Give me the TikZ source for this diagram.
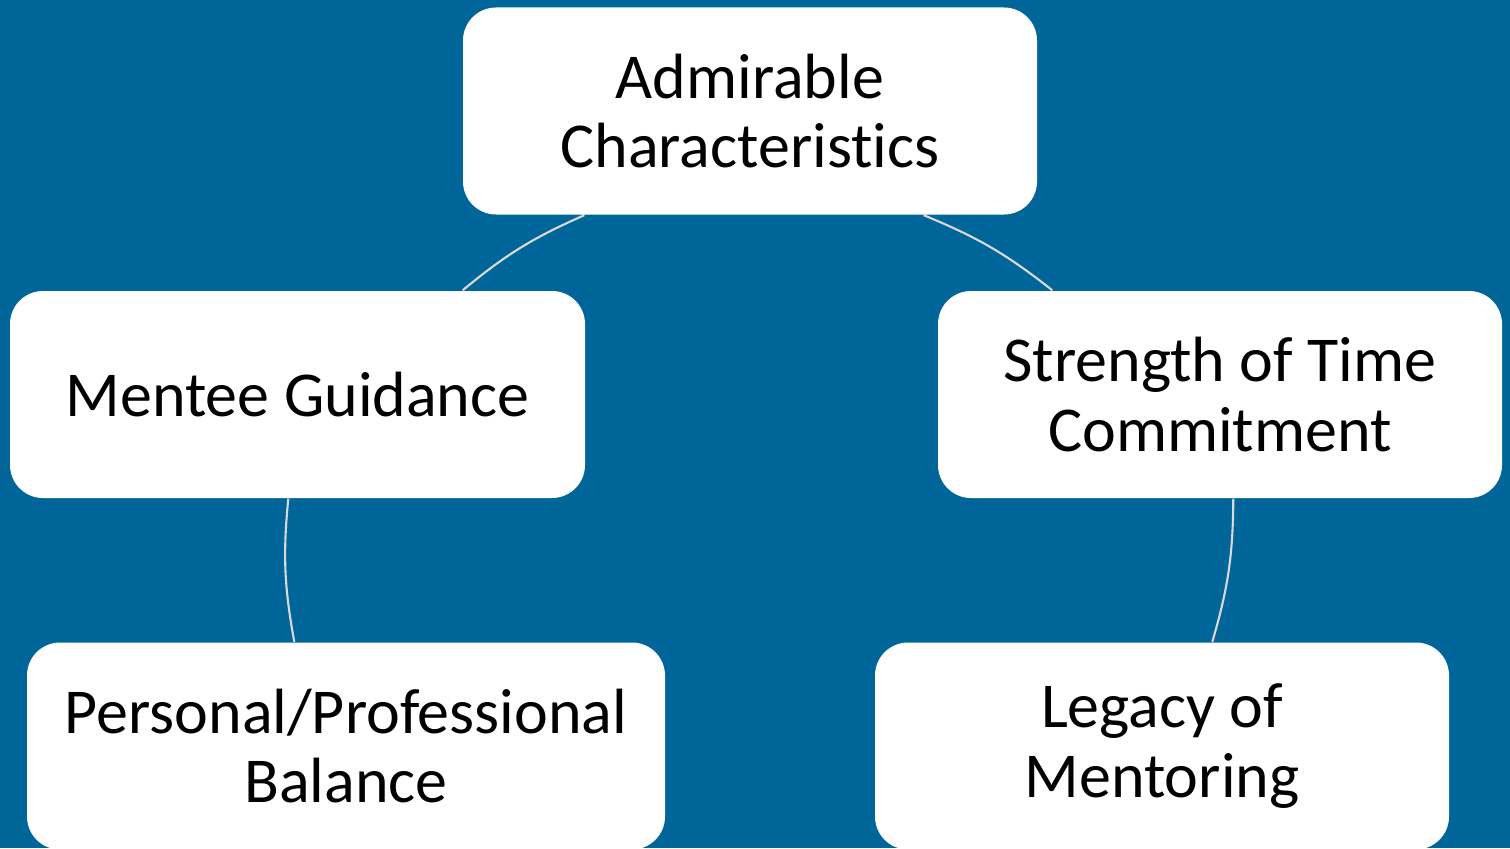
\documentclass[tikz,border=0pt]{standalone}
\usepackage{fontspec}
\setmainfont{Carlito}[Ligatures=NoCommon]
\usepackage{tikz}
\usetikzlibrary{positioning}
\definecolor{slideblue}{RGB}{0,102,153}
\definecolor{ringgray}{RGB}{217,217,217}
\pgfdeclarelayer{back}
\pgfsetlayers{back,main}

\begin{document}
\begin{tikzpicture}
        \tikzstyle{box}=[rectangle,rounded corners=0.33cm,fill=white,
            minimum height=2.07cm,inner sep=0pt,align=center,
            font=\fontsize{18.2}{19.7}\selectfont]
        \tikzstyle{ring}=[ringgray,line width=0.6pt]
            \useasboundingbox (0,0) rectangle (15.10,8.48);
            \begin{pgfonlayer}{back}
                \fill[slideblue] (0,0) rectangle (15.10,8.48);
            \end{pgfonlayer}

            \node[box,minimum width=5.74cm] (adm) at (7.50,7.37) {Admirable\\Characteristics};
            \node[box,minimum width=5.75cm] (guide) at (2.975,4.535) {Mentee Guidance};
            \node[box,minimum width=5.64cm] (time) at (12.20,4.535) {Strength of Time\\Commitment};
            \node[box,minimum width=6.38cm] (balance) at (3.46,1.02) {Personal/Professional\\Balance};
            \node[box,minimum width=5.74cm] (legacy) at (11.62,1.02) {Legacy of\\Mentoring};

            \begin{pgfonlayer}{back}
                \draw[ring] ([xshift=1.22cm]adm.south west)
                to[bend right=8] ([xshift=-1.23cm]guide.north east);
                \draw[ring] ([xshift=-1.14cm]adm.south east)
                to[bend left=8] ([xshift=1.15cm]time.north west);
                \draw[ring] ([xshift=2.79cm]guide.south west)
                to[bend right=8] ([xshift=2.68cm]balance.north west);
                \draw[ring] ([xshift=2.96cm]time.south west)
                to[bend left=8] ([xshift=3.38cm]legacy.north west);
            \end{pgfonlayer}
        \end{tikzpicture}
\end{document}
